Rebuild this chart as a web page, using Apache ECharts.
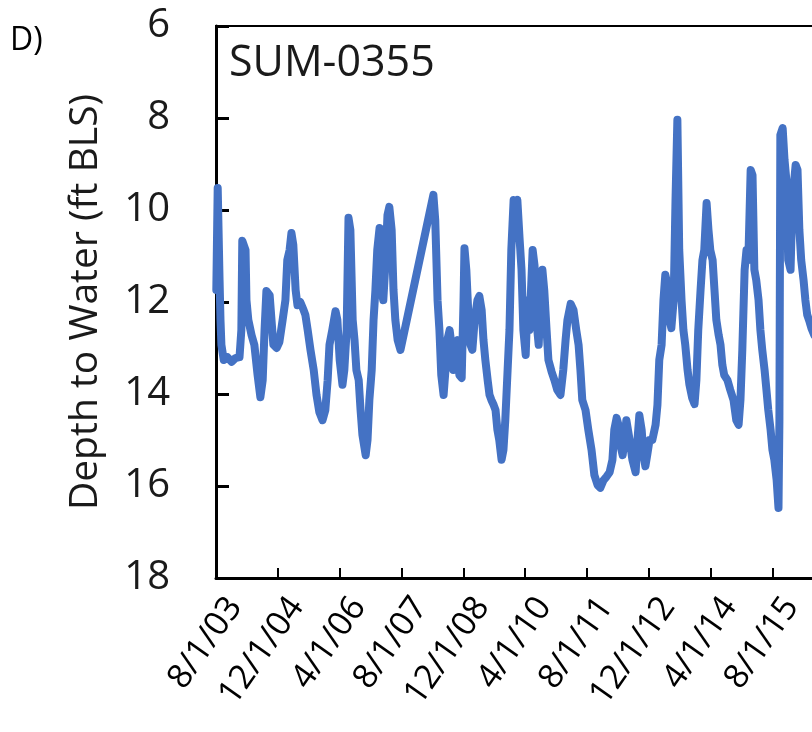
<!DOCTYPE html>
<html>
<head>
<meta charset="utf-8">
<script src="https://cdn.jsdelivr.net/npm/echarts@6/dist/echarts.min.js"></script>
<style>
html,body{margin:0;padding:0;background:#fff;}
#chart{width:812px;height:732px;}
</style>
</head>
<body>
<div id="chart"></div>
<script>
// Decimal year of each reading (SUM-0355)
const years = [
2003.59,2003.62,2003.66,2003.68,2003.70,2003.75,2003.83,2003.92,2004.00,2004.09,
2004.13,2004.15,2004.22,2004.24,2004.28,2004.35,2004.41,2004.48,2004.54,2004.59,
2004.63,2004.67,2004.74,2004.78,2004.82,2004.89,2004.95,2005.02,2005.08,2005.12,
2005.17,2005.21,2005.25,2005.30,2005.34,2005.40,2005.47,2005.51,2005.56,2005.62,
2005.69,2005.75,2005.81,2005.88,2005.94,2005.99,2006.03,2006.09,2006.16,2006.20,
2006.25,2006.31,2006.35,2006.40,2006.44,2006.48,2006.53,2006.57,2006.61,2006.66,
2006.70,2006.74,2006.81,2006.85,2006.89,2006.94,2006.98,2007.02,2007.06,2007.11,
2007.15,2007.19,2007.24,2007.28,2007.32,2007.37,2007.41,2007.45,2007.50,2007.56,
2008.27,2008.31,2008.36,2008.40,2008.44,2008.49,2008.53,2008.57,2008.62,2008.66,
2008.70,2008.75,2008.79,2008.83,2008.88,2008.92,2008.94,2008.98,2009.03,2009.07,
2009.11,2009.16,2009.22,2009.26,2009.31,2009.35,2009.39,2009.44,2009.48,2009.52,
2009.57,2009.61,2009.65,2009.69,2009.74,2009.78,2009.82,2009.87,2009.91,2009.95,
2010.00,2010.04,2010.08,2010.13,2010.17,2010.21,2010.26,2010.30,2010.34,2010.41,
2010.45,2010.49,2010.54,2010.58,2010.62,2010.66,2010.71,2010.75,2010.82,2010.88,
2010.94,2011.01,2011.07,2011.12,2011.16,2011.23,2011.29,2011.35,2011.40,2011.44,
2011.48,2011.55,2011.61,2011.68,2011.74,2011.81,2011.87,2011.94,2012.00,2012.07,
2012.13,2012.17,2012.22,2012.26,2012.30,2012.35,2012.39,2012.43,2012.50,2012.56,
2012.63,2012.67,2012.71,2012.76,2012.80,2012.84,2012.88,2012.93,2012.99,2013.06,
2013.10,2013.14,2013.19,2013.23,2013.27,2013.32,2013.36,2013.40,2013.45,2013.49,
2013.53,2013.57,2013.62,2013.66,2013.70,2013.75,2013.79,2013.85,2013.90,2013.94,
2013.98,2014.03,2014.07,2014.11,2014.16,2014.20,2014.24,2014.29,2014.33,2014.37,
2014.42,2014.46,2014.50,2014.54,2014.61,2014.67,2014.74,2014.80,2014.85,2014.89,
2014.93,2014.98,2015.02,2015.06,2015.11,2015.15,2015.19,2015.23,2015.28,2015.32,
2015.36,2015.41,2015.45,2015.49,2015.54,2015.58,2015.62,2015.67,2015.71,2015.73,
2015.75,2015.80,2015.84,2015.88,2015.92,2015.97,2016.01,2016.08,2016.12,2016.16,
2016.20,2016.25,2016.29,2016.33,2016.38,2016.42,2016.48
];
// Depth to water, ft below land surface
const depths = [
11.74,9.52,11.52,12.39,12.93,13.26,13.20,13.30,13.22,13.20,
12.61,10.67,10.87,11.96,12.39,12.72,12.93,13.59,14.07,13.70,
12.61,11.76,11.85,12.39,12.93,13.00,12.87,12.39,11.96,11.09,
10.87,10.50,10.76,11.74,12.07,12.00,12.17,12.28,12.61,13.04,
13.48,14.02,14.39,14.57,14.35,13.70,12.93,12.61,12.20,12.39,
13.26,13.80,13.48,12.61,10.17,10.43,12.39,12.83,13.48,13.70,
14.35,14.89,15.33,15.00,14.13,13.48,12.39,11.74,10.87,10.39,
11.74,11.96,11.09,10.11,9.93,10.43,11.74,12.39,12.83,13.04,
9.67,10.22,11.96,12.61,13.59,14.02,13.48,12.83,12.61,12.93,
13.48,12.93,12.83,13.59,13.65,11.96,10.83,11.30,12.39,12.93,
13.04,12.39,11.96,11.87,12.17,12.83,13.26,13.70,14.02,14.13,
14.24,14.35,14.78,15.00,15.43,15.22,14.57,13.48,12.61,10.87,
9.78,9.89,9.78,10.65,11.30,12.61,13.15,11.96,12.61,10.87,
11.20,12.39,12.93,11.96,11.30,11.74,12.61,13.26,13.52,13.70,
13.91,14.02,13.48,12.83,12.39,12.04,12.17,12.61,12.93,13.48,
14.13,14.35,14.78,15.22,15.76,15.98,16.04,15.87,15.80,15.70,
15.43,14.78,14.52,14.67,15.11,15.33,15.00,14.57,15.00,15.43,
15.70,15.00,14.46,14.78,15.33,15.57,15.33,15.00,15.00,14.67,
14.24,13.26,12.93,11.96,11.41,11.63,12.39,12.57,11.96,9.78,
8.04,10.87,11.96,12.61,12.93,13.48,13.80,14.09,14.22,13.70,
12.61,11.74,11.09,10.87,9.85,10.43,10.87,11.09,11.74,12.39,
12.72,12.93,13.37,13.59,13.70,13.91,14.13,14.57,14.67,14.13,
13.04,11.30,10.87,11.09,9.13,9.24,11.30,11.52,11.96,12.61,
13.04,13.48,13.91,14.35,14.78,15.22,15.43,15.87,16.48,14.57,
8.37,8.22,8.91,9.35,11.09,11.30,9.78,9.02,9.13,10.43,
11.09,11.52,11.96,12.28,12.43,12.57,12.72
];
const startYear = 2003 + 7 / 12;   // 8/1/03
const yTicks = [6, 8, 10, 12, 14, 16, 18];
const siteName = 'SUM-0355';
const panelLabel = 'D)';
const yTitle = 'Depth to Water (ft BLS)';

const seriesData = years.map((y, i) => [(y - startYear) * 12, depths[i]]);

function monthLabel(m) {
  if (Math.abs(m % 16) > 1e-6) return '';
  const total = 7 + Math.round(m);
  const yr = 2003 + Math.floor(total / 12);
  const mo = (total % 12) + 1;
  return mo + '/1/' + String(yr % 100).padStart(2, '0');
}

const FONT = 'Open Sans';
const chart = echarts.init(document.getElementById('chart'), null, {renderer: 'canvas'});
chart.setOption({
  animation: false,
  backgroundColor: '#fff',
  textStyle: {fontFamily: FONT},
  grid: {left: 216, top: 26, right: -7, bottom: 154, show: true, borderColor: '#000', borderWidth: 2,
         backgroundColor: 'transparent', containLabel: false, outerBoundsMode: 'none'},
  xAxis: {
    type: 'value', min: 0, max: 156, interval: 16,
    axisLine: {show: true, lineStyle: {color: '#000', width: 3}},
    axisTick: {show: true, inside: true, length: 10, lineStyle: {color: '#000', width: 2}},
    splitLine: {show: false},
    axisLabel: {rotate: 55, margin: 50, padding: [25, -33, 0, 0], fontSize: 34, color: '#000', fontFamily: FONT,
                formatter: monthLabel, showMaxLabel: false, hideOverlap: false}
  },
  yAxis: {
    type: 'value', inverse: true, min: yTicks[0], max: yTicks[yTicks.length - 1], interval: 2,
    name: yTitle, nameLocation: 'middle', nameGap: 111,
    nameTextStyle: {fontSize: 39, color: '#1a1a1a', fontFamily: FONT},
    axisLine: {show: true, lineStyle: {color: '#000', width: 3}},
    axisTick: {show: true, inside: true, length: 13, lineStyle: {color: '#000', width: 3}},
    splitLine: {show: false},
    axisLabel: {margin: 46, fontSize: 40, color: '#1a1a1a', fontFamily: FONT}
  },
  graphic: [
    {type: 'text', left: 10, top: 25, style: {text: panelLabel, font: '32px "Open Sans"', fill: '#000'}},
    {type: 'text', left: 229, top: 42, style: {text: siteName, font: '43px "Open Sans"', fill: '#1a1a1a'}}
  ],
  series: [{
    type: 'line', data: seriesData, showSymbol: false, symbol: 'none',
    lineStyle: {color: '#4472C4', width: 8, cap: 'round', join: 'round'},
    clip: true
  }]
});
</script>
</body>
</html>
